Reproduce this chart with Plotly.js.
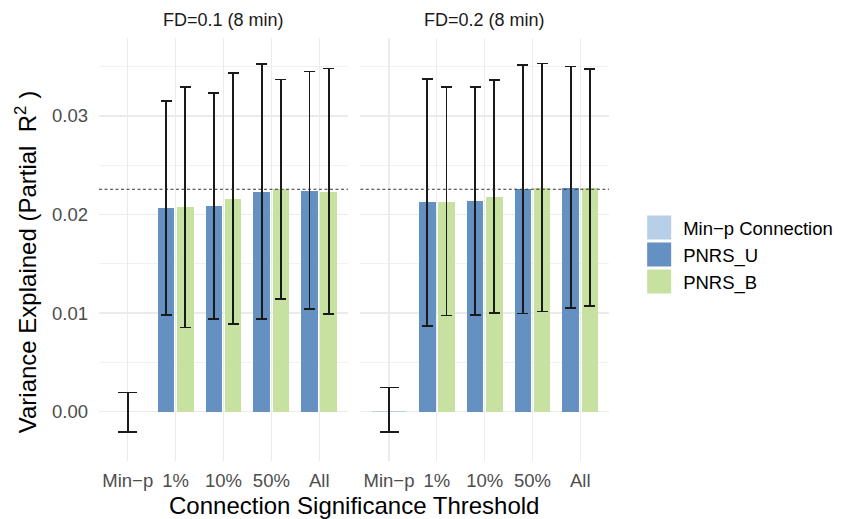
<!DOCTYPE html>
<html>
<head>
<meta charset="utf-8">
<script src="https://cdn.plot.ly/plotly-3.0.1.min.js"></script>
<style>html,body{margin:0;padding:0;background:#fff;}#chart{width:843px;height:519px;}</style>
</head>
<body>
<div id="chart"></div>
<script>
// ---- data ----
var thresholds = ['Min\u2212p', '1%', '10%', '50%', 'All'];
var minpCat = ['Min\u2212p'];
var pnrsCats = ['1%', '10%', '50%', 'All'];
var panelTitles = ['FD=0.1 (8 min)', 'FD=0.2 (8 min)'];
var seriesNames = ['Min\u2212p Connection', 'PNRS_U', 'PNRS_B'];

// FD = 0.1
var fd1MinP = [0.0000];
var fd1MinPHi = [0.00193];
var fd1MinPLo = [-0.00206];
var fd1U = [0.02063, 0.02086, 0.02231, 0.02241];
var fd1UHi = [0.03151, 0.03232, 0.03529, 0.03452];
var fd1ULo = [0.00978, 0.00940, 0.00943, 0.01039];
var fd1B = [0.02073, 0.02160, 0.02256, 0.02231];
var fd1BHi = [0.03296, 0.03435, 0.03371, 0.03479];
var fd1BLo = [0.00852, 0.00892, 0.01140, 0.00991];

// FD = 0.2
var fd2MinP = [0.00010];
var fd2MinPHi = [0.00247];
var fd2MinPLo = [-0.00206];
var fd2U = [0.02124, 0.02134, 0.02256, 0.02272];
var fd2UHi = [0.03377, 0.03293, 0.03519, 0.03499];
var fd2ULo = [0.00872, 0.00978, 0.00994, 0.01049];
var fd2B = [0.02130, 0.02180, 0.02272, 0.02272];
var fd2BHi = [0.03293, 0.03364, 0.03533, 0.03476];
var fd2BLo = [0.00974, 0.01004, 0.01018, 0.01072];

var baseline = 0.02256;

// ---- styling ----
var colMinP = '#b7d0e7';
var colU = '#6590c2';
var colB = '#c6e1a0';
var errCol = '#1a1a1a';
var font = 'Liberation Sans, Arial, Helvetica, sans-serif';

function diff(a, b) { return a.map(function (v, i) { return v - b[i]; }); }

function barTrace(name, x, y, hi, lo, color, xa, ya, offset, width, capw, showleg) {
  return {
    type: 'bar', name: name, x: x, y: y, xaxis: xa, yaxis: ya,
    offset: offset, width: width,
    marker: { color: color, line: { width: 0 } },
    error_y: { type: 'data', symmetric: false, array: diff(hi, y), arrayminus: diff(y, lo),
               color: errCol, thickness: 1.6, width: capw },
    showlegend: showleg, legendgroup: name, hoverinfo: 'x+y'
  };
}

var traces = [
  barTrace(seriesNames[0], minpCat, fd1MinP, fd1MinPHi, fd1MinPLo, colMinP, 'x', 'y', -0.35, 0.7, 9.5, true),
  barTrace(seriesNames[1], pnrsCats, fd1U, fd1UHi, fd1ULo, colU, 'x', 'y', -0.375, 0.35, 5.5, true),
  barTrace(seriesNames[2], pnrsCats, fd1B, fd1BHi, fd1BLo, colB, 'x', 'y', 0.025, 0.35, 5.5, true),
  barTrace(seriesNames[0], minpCat, fd2MinP, fd2MinPHi, fd2MinPLo, colMinP, 'x2', 'y2', -0.35, 0.7, 9.5, false),
  barTrace(seriesNames[1], pnrsCats, fd2U, fd2UHi, fd2ULo, colU, 'x2', 'y2', -0.375, 0.35, 5.5, false),
  barTrace(seriesNames[2], pnrsCats, fd2B, fd2BHi, fd2BLo, colB, 'x2', 'y2', 0.025, 0.35, 5.5, false)
];

var gridCol = '#ebebeb';
var tickFont = { family: font, size: 18.5, color: '#4d4d4d' };
function xAxis(domain, anchor) {
  return {
    domain: domain, anchor: anchor, type: 'category', categoryorder: 'array', categoryarray: thresholds,
    range: [-0.6, 4.6], showgrid: true, gridcolor: gridCol, gridwidth: 1.3, zeroline: false,
    showline: false, ticks: '', ticklabelstandoff: 6,
    tickfont: tickFont, fixedrange: true
  };
}
function yAxis(anchor, labels, matches) {
  var a = {
    anchor: anchor, range: [-0.0050, 0.0379], tick0: 0, dtick: 0.01, tickformat: '.2f',
    showgrid: true, gridcolor: gridCol, gridwidth: 1.3, zeroline: false, showline: false,
    ticks: '', showticklabels: labels, ticklabelstandoff: 10,
    tickfont: tickFont,
    minor: { dtick: 0.005, tick0: 0, showgrid: true, gridcolor: gridCol, gridwidth: 0.7 },
    fixedrange: true
  };
  if (matches) a.matches = matches;
  return a;
}

var layout = {
  width: 843, height: 519,
  margin: { l: 99, r: 234, t: 38, b: 58, autoexpand: false },
  paper_bgcolor: '#ffffff', plot_bgcolor: '#ffffff',
  barmode: 'overlay', bargap: 0,
  font: { family: font, color: '#000' },
  xaxis: xAxis([0, 0.4882], 'y'),
  xaxis2: xAxis([0.5124, 1], 'y2'),
  yaxis: yAxis('x', true),
  yaxis2: yAxis('x2', false, 'y'),
  showlegend: true,
  legend: {
    x: 1.067, xanchor: 'left', y: 0.487, yanchor: 'middle',
    font: { family: font, size: 18.5, color: '#000' }, bgcolor: 'rgba(0,0,0,0)',
    traceorder: 'normal', itemclick: false, itemdoubleclick: false
  },
  shapes: [
    { type: 'line', xref: 'x domain', yref: 'y', x0: 0, x1: 1, y0: baseline, y1: baseline,
      line: { color: '#333333', width: 1, dash: '3px,2.5px' }, layer: 'above' },
    { type: 'line', xref: 'x2 domain', yref: 'y2', x0: 0, x1: 1, y0: baseline, y1: baseline,
      line: { color: '#333333', width: 1, dash: '3px,2.5px' }, layer: 'above' }
  ],
  annotations: [
    { text: panelTitles[0], xref: 'x domain', yref: 'paper', x: 0.5, y: 1.0426, xanchor: 'center', yanchor: 'middle',
      showarrow: false, font: { family: font, size: 18, color: '#1a1a1a' } },
    { text: panelTitles[1], xref: 'x2 domain', yref: 'paper', x: 0.5, y: 1.0426, xanchor: 'center', yanchor: 'middle',
      showarrow: false, font: { family: font, size: 18, color: '#1a1a1a' } },
    { text: 'Connection Significance Threshold', xref: 'paper', yref: 'paper', x: 0.5, y: -0.106,
      xanchor: 'center', yanchor: 'middle', showarrow: false, font: { family: font, size: 24, color: '#000' } },
    { text: 'Variance Explained (Partial  R<sup>2</sup> )', xref: 'paper', yref: 'paper', x: -0.143, y: 0.47,
      xanchor: 'center', yanchor: 'middle', textangle: -90, showarrow: false,
      font: { family: font, size: 24, color: '#000' } }
  ]
};

Plotly.newPlot('chart', traces, layout, { displayModeBar: false, staticPlot: true }).then(function () {
  // enlarge legend keys to match the reference
  var pts = document.querySelectorAll('.legend .legendpoints path');
  pts.forEach(function (p) { p.setAttribute('d', 'M8,12H-16V-12H8Z'); });
});
</script>
</body>
</html>
